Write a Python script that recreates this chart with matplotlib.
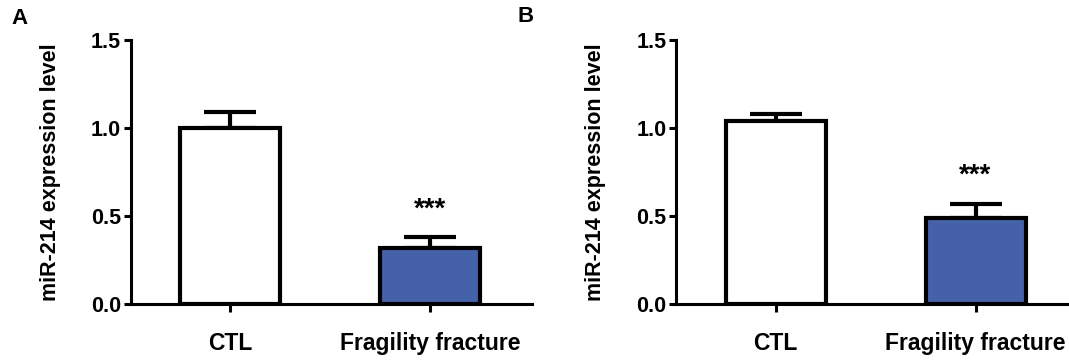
"""Two-panel bar chart: miR-214 expression, CTL vs fragility fracture."""
import matplotlib.pyplot as plt

FONT = "Liberation Sans"
BLUE = "#4561a9"

GROUPS = ["CTL", "Fragility fracture"]
PANEL_A_MEAN = [1.00, 0.32]
PANEL_A_SEM = [0.09, 0.06]
PANEL_B_MEAN = [1.04, 0.49]
PANEL_B_SEM = [0.04, 0.08]
Y_TICKS = [0.0, 0.5, 1.0, 1.5]
STARS = "***"

plt.rcParams["font.family"] = [FONT, "DejaVu Sans"]
plt.rcParams["font.weight"] = "bold"


def draw_panel(ax, means, sems, xlim):
    x = list(range(len(GROUPS)))
    ax.bar(x, means, width=0.5, color=["white", BLUE], edgecolor="black",
           linewidth=3, zorder=3)
    ax.errorbar(x, means, yerr=[[0] * len(sems), sems], fmt="none", ecolor="black",
                elinewidth=3, capsize=19, capthick=3, zorder=2)
    top = means[1] + sems[1]
    ax.annotate(STARS, (1, top), xytext=(0, 15), textcoords="offset points",
                ha="center", va="baseline", fontsize=20, fontweight="bold")

    ax.set_xlim(*xlim)
    ax.set_ylim(0, 1.5)
    ax.set_yticks(Y_TICKS)
    ax.set_yticklabels([f"{v:.1f}" for v in Y_TICKS], fontsize=15.5, fontweight="bold")
    ax.set_xticks(x)
    ax.set_xticklabels(GROUPS, fontsize=16.5, fontweight="bold")
    ax.tick_params(axis="x", direction="out", length=6, width=2.2, pad=14)
    ax.tick_params(axis="y", direction="out", length=5, width=2.2, pad=2)
    ax.set_ylabel("miR-214 expression level", fontsize=15.5, fontweight="bold", labelpad=22)
    for side in ("top", "right"):
        ax.spines[side].set_visible(False)
    for side in ("left", "bottom"):
        ax.spines[side].set_linewidth(2.2)


fig = plt.figure(figsize=(10.69, 3.61), dpi=100)
ax_a = fig.add_axes([0.1225, 0.158, 0.375, 0.731])
ax_b = fig.add_axes([0.6324, 0.158, 0.3676, 0.731])

draw_panel(ax_a, PANEL_A_MEAN, PANEL_A_SEM, (-0.495, 1.51))
draw_panel(ax_b, PANEL_B_MEAN, PANEL_B_SEM, (-0.4975, 1.4675))

fig.text(19 / 1069, 1 - 19 / 361, "A", ha="center", va="center", fontsize=16, fontweight="bold")
fig.text(526 / 1069, 1 - 17 / 361, "B", ha="center", va="center", fontsize=16, fontweight="bold")

fig.savefig("out.png", dpi=100, facecolor="white")
